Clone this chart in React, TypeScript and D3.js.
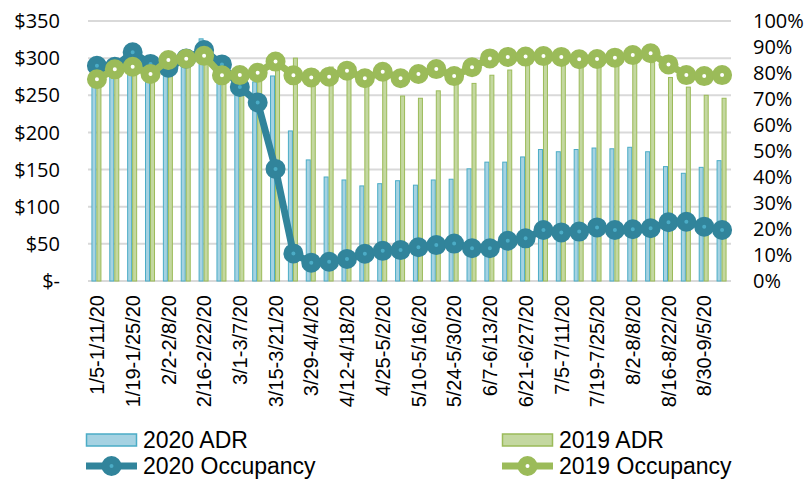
import React, { useEffect, useRef } from "react";
import * as d3 from "d3";

const weeks = [
  "1/5-1/11/20", "1/12-1/18/20", "1/19-1/25/20", "1/26-2/1/20", "2/2-2/8/20", "2/9-2/15/20",
  "2/16-2/22/20", "2/23-2/29/20", "3/1-3/7/20", "3/8-3/14/20", "3/15-3/21/20", "3/22-3/28/20",
  "3/29-4/4/20", "4/5-4/11/20", "4/12-4/18/20", "4/19-4/25/20", "4/25-5/2/20", "5/3-5/9/20",
  "5/10-5/16/20", "5/17-5/23/20", "5/24-5/30/20", "5/31-6/6/20", "6/7-6/13/20", "6/14-6/20/20",
  "6/21-6/27/20", "6/28-7/4/20", "7/5-7/11/20", "7/12-7/18/20", "7/19-7/25/20", "7/26-8/1/20",
  "8/2-8/8/20", "8/9-8/15/20", "8/16-8/22/20", "8/23-8/29/20", "8/30-9/5/20", "9/6-9/12/20",
];

// ADR in dollars
const adr2020 = [
  275, 285, 300, 280, 290, 300, 326, 292, 262, 268, 276, 202, 163, 140, 136, 128, 131, 135,
  129, 136, 137, 151, 160, 160, 167, 177, 174, 177, 179, 178, 180, 174, 154, 145, 153, 162,
];
const adr2019 = [
  268, 290, 292, 282, 298, 300, 310, 285, 278, 282, 296, 300, 285, 288, 292, 284, 288, 249,
  246, 256, 265, 266, 277, 284, 292, 295, 296, 294, 295, 296, 296, 294, 274, 261, 250, 246,
];

// occupancy in percent
const occ2020 = [
  82.8, 82.4, 88.0, 83.5, 82.0, 85.6, 88.8, 83.3, 74.6, 68.7, 43.1, 10.6, 7.0, 7.4, 8.5, 10.5,
  11.6, 11.9, 13.0, 13.8, 14.4, 12.6, 12.6, 15.5, 16.4, 19.6, 18.7, 19.0, 20.6, 19.6, 19.9,
  20.3, 22.6, 22.8, 20.9, 19.6,
];
const occ2019 = [
  77.6, 81.4, 82.4, 79.6, 85.0, 85.5, 86.6, 79.1, 79.2, 80.1, 84.4, 79.1, 78.3, 78.6, 80.9,
  78.0, 80.5, 78.0, 79.6, 81.5, 78.8, 82.2, 85.6, 86.2, 86.3, 86.5, 86.2, 85.3, 85.4, 85.9,
  86.9, 87.6, 83.3, 79.2, 78.8, 79.2,
];

const dollarTicks = [0, 50, 100, 150, 200, 250, 300, 350];
const pctTicks = [0, 10, 20, 30, 40, 50, 60, 70, 80, 90, 100];

const c2020 = { fill: "#a5d2e2", stroke: "#4bacc6", line: "#31849b", dot: "#4bacc6" };
const c2019 = { fill: "#c4d8a0", stroke: "#9bbb59", line: "#9bbb59", dot: "#ffffff" };

const App: React.FC = () => {
  const svgRef = useRef<SVGSVGElement>(null);

  useEffect(() => {
    const svg = d3.select(svgRef.current);
    svg.selectAll("*").remove();

    const left = 88;
    const right = 731;
    const top = 21;
    const bottom = 281;

    const x = d3.scaleBand<string>().domain(weeks).range([left, right]).paddingInner(0.44).paddingOuter(0.22);
    const xSub = d3.scaleBand<string>().domain(["2020", "2019"]).range([-0.5, x.bandwidth() - 0.5]);
    const y = d3.scaleLinear().domain([0, 350]).range([bottom, top]);
    const y2 = d3.scaleLinear().domain([0, 100]).range([bottom, top]);
    const cx = (i: number) => x(weeks[i])! + x.bandwidth() / 2;

    // gridlines
    svg
      .append("g")
      .selectAll("line")
      .data(dollarTicks)
      .join("line")
      .attr("x1", left)
      .attr("x2", right)
      .attr("y1", (d) => y(d))
      .attr("y2", (d) => y(d))
      .attr("stroke", "#d9d9d9")
      .attr("stroke-width", 2);

    // left axis labels
    svg
      .append("g")
      .selectAll("text")
      .data(dollarTicks)
      .join("text")
      .attr("x", 60)
      .attr("y", (d) => y(d))
      .attr("dy", "0.36em")
      .attr("text-anchor", "end")
      .style("font-family", "'Open Sans', sans-serif")
      .style("font-size", "20px")
      .attr("fill", "#000")
      .text((d) => (d === 0 ? "$-" : `$${d}`));

    // right axis labels
    svg
      .append("g")
      .selectAll("text")
      .data(pctTicks)
      .join("text")
      .attr("x", 753)
      .attr("y", (d) => y2(d))
      .attr("dy", "0.36em")
      .style("font-family", "'Open Sans', sans-serif")
      .style("font-size", "20px")
      .attr("fill", "#000")
      .text((d) => `${d}%`);

    // bars
    const bars = [
      { key: "2020", vals: adr2020, c: c2020 },
      { key: "2019", vals: adr2019, c: c2019 },
    ];
    bars.forEach((b) => {
      svg
        .append("g")
        .selectAll("rect")
        .data(b.vals)
        .join("rect")
        .attr("x", (d, i) => x(weeks[i])! + xSub(b.key)! + 0.5)
        .attr("y", (d) => y(d))
        .attr("width", xSub.bandwidth() - 1)
        .attr("height", (d) => bottom - y(d))
        .attr("fill", b.c.fill)
        .attr("stroke", b.c.stroke)
        .attr("stroke-width", 1);
    });

    // occupancy lines
    const lines = [
      { vals: occ2020, c: c2020 },
      { vals: occ2019, c: c2019 },
    ];
    lines.forEach((l) => {
      const line = d3
        .line<number>()
        .x((d, i) => cx(i))
        .y((d) => y2(d));
      svg
        .append("path")
        .datum(l.vals)
        .attr("fill", "none")
        .attr("stroke", l.c.line)
        .attr("stroke-width", 7)
        .attr("stroke-linejoin", "round")
        .attr("d", line);
      svg
        .append("g")
        .selectAll("circle")
        .data(l.vals)
        .join("circle")
        .attr("cx", (d, i) => cx(i))
        .attr("cy", (d) => y2(d))
        .attr("r", 6)
        .attr("fill", l.c.dot)
        .attr("stroke", l.c.line)
        .attr("stroke-width", 8);
    });

    // x labels, every other week
    svg
      .append("g")
      .selectAll("text")
      .data(weeks.filter((w, i) => i % 2 === 0))
      .join("text")
      .attr("transform", (d) => `translate(${x(d)! + x.bandwidth() / 2},295) rotate(-90)`)
      .attr("dy", "0.36em")
      .attr("text-anchor", "end")
      .style("font-family", "'Liberation Sans', Arial, sans-serif")
      .style("font-size", "20px")
      .attr("fill", "#000")
      .text((d) => d);

    // legend
    const legend = [
      { label: "2020 ADR", c: c2020, bar: true, lx: 86, ly: 440 },
      { label: "2019 ADR", c: c2019, bar: true, lx: 502, ly: 440 },
      { label: "2020 Occupancy", c: c2020, bar: false, lx: 86, ly: 466 },
      { label: "2019 Occupancy", c: c2019, bar: false, lx: 502, ly: 466 },
    ];
    legend.forEach((l) => {
      const g = svg.append("g").attr("transform", `translate(${l.lx},${l.ly})`);
      if (l.bar) {
        g.append("rect")
          .attr("x", 0.5)
          .attr("y", -6)
          .attr("width", 50)
          .attr("height", 12)
          .attr("fill", l.c.fill)
          .attr("stroke", l.c.stroke)
          .attr("stroke-width", 1.5);
      } else {
        g.append("line")
          .attr("x1", 0)
          .attr("x2", 51)
          .attr("stroke", l.c.line)
          .attr("stroke-width", 7);
        g.append("circle")
          .attr("cx", 25.5)
          .attr("r", 6)
          .attr("fill", l.c.dot)
          .attr("stroke", l.c.line)
          .attr("stroke-width", 8);
      }
      g.append("text")
        .attr("x", 57)
        .attr("dy", "0.36em")
        .style("font-family", "'Liberation Sans', Arial, sans-serif")
        .style("font-size", "23px")
        .attr("fill", "#000")
        .text(l.label);
    });
  }, []);

  return (
    <svg
      ref={svgRef}
      width={807}
      height={480}
      style={{ position: "absolute", left: 0, top: 0, background: "#fff" }}
    ></svg>
  );
};

export default App;
